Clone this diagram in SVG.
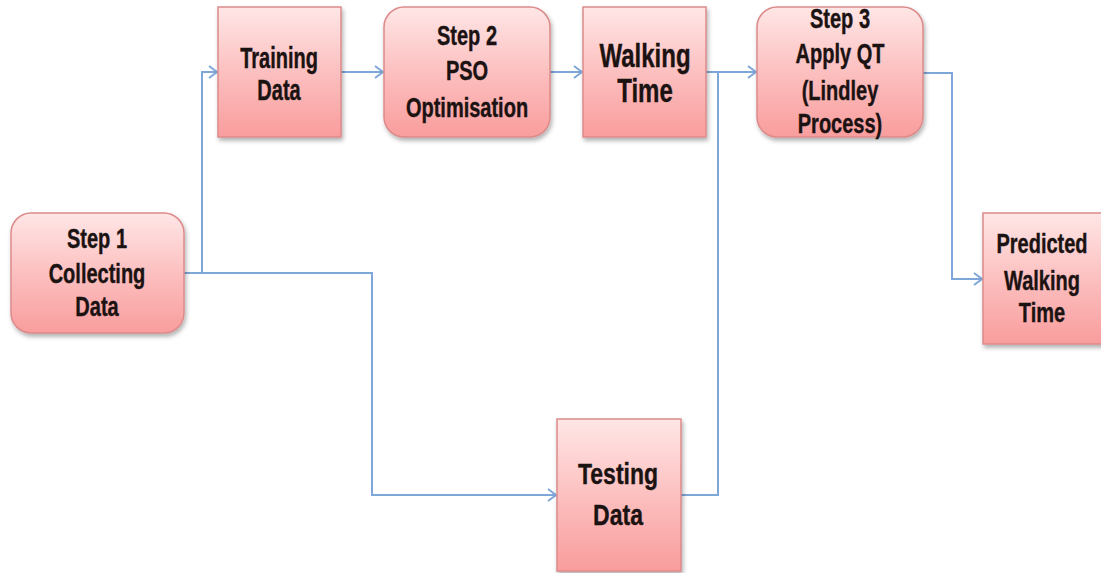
<svg xmlns="http://www.w3.org/2000/svg" width="1101" height="573" viewBox="0 0 1101 573">
  <style>
    .box { fill: url(#boxFill); stroke: #dc8a8a; stroke-width: 1.5; filter: url(#shadow); }
    .lbl { font-family: "Liberation Sans", Arial, sans-serif; font-weight: bold; font-size: 20px; fill: #1b1212; text-anchor: middle; stroke: #1b1212; stroke-width: 0.3; }
    .big { font-size: 24px; }
    .conn { fill: none; stroke: #7fa6d8; stroke-width: 2; }
  </style>
  <defs>
    <linearGradient id="boxFill" x1="0" y1="0" x2="0" y2="1">
      <stop offset="0" stop-color="#ffe6e6"/>
      <stop offset="0.55" stop-color="#fcbcbc"/>
      <stop offset="1" stop-color="#f99d9d"/>
    </linearGradient>
    <filter id="shadow" x="-10%" y="-10%" width="125%" height="125%">
      <feDropShadow dx="1.5" dy="3" stdDeviation="2" flood-color="#000" flood-opacity="0.3"/>
    </filter>
    <marker id="arrow" markerUnits="userSpaceOnUse" markerWidth="12" markerHeight="16" refX="9" refY="7" orient="auto">
      <path d="M1,1 L9,7 L1,13" fill="none" stroke="#7fa6d8" stroke-width="2"/>
    </marker>
  </defs>

  <!-- connectors -->
  <g id="connectors">
    <path class="conn" d="M184 273 H202 V72 H217" marker-end="url(#arrow)"/>
    <path class="conn" d="M202 273 H372 V495 H556" marker-end="url(#arrow)"/>
    <path class="conn" d="M341 72 H383" marker-end="url(#arrow)"/>
    <path class="conn" d="M550 72 H582" marker-end="url(#arrow)"/>
    <path class="conn" d="M706 72 H756" marker-end="url(#arrow)"/>
    <path class="conn" d="M681 495 H718 V72"/>
    <path class="conn" d="M923 73 H952 V279 H982" marker-end="url(#arrow)"/>
  </g>

  <!-- Step 1 -->
  <g id="step1">
    <rect class="box" x="11" y="213" width="173" height="120" rx="20"/>
    <text class="lbl" transform="translate(97,248) scale(1,1.4)">Step 1</text>
    <text class="lbl" transform="translate(97,283) scale(1,1.4)">Collecting</text>
    <text class="lbl" transform="translate(97,316) scale(1,1.4)">Data</text>
  </g>

  <!-- Training Data -->
  <g id="training">
    <rect class="box" x="218" y="7" width="123" height="130"/>
    <text class="lbl" transform="translate(279,68) scale(1,1.45)">Training</text>
    <text class="lbl" transform="translate(279,100) scale(1,1.45)">Data</text>
  </g>

  <!-- Step 2 -->
  <g id="step2">
    <rect class="box" x="384" y="7" width="166" height="130" rx="20"/>
    <text class="lbl" transform="translate(467,45) scale(1,1.4)">Step 2</text>
    <text class="lbl" transform="translate(467,80) scale(1,1.4)">PSO</text>
    <text class="lbl" transform="translate(467,117) scale(1,1.4)">Optimisation</text>
  </g>

  <!-- Walking Time -->
  <g id="walking">
    <rect class="box" x="583" y="7" width="123" height="130"/>
    <text class="lbl big" transform="translate(645,67) scale(1,1.35)">Walking</text>
    <text class="lbl big" transform="translate(645,102) scale(1,1.35)">Time</text>
  </g>

  <!-- Step 3 -->
  <g id="step3">
    <rect class="box" x="757" y="7" width="166" height="130" rx="20"/>
    <text class="lbl" transform="translate(840,28) scale(1,1.4)">Step 3</text>
    <text class="lbl" transform="translate(840,63) scale(1,1.4)">Apply QT</text>
    <text class="lbl" transform="translate(840,100) scale(1,1.4)">(Lindley</text>
    <text class="lbl" transform="translate(840,133) scale(1,1.4)">Process)</text>
  </g>

  <!-- Predicted Walking Time -->
  <g id="predicted">
    <rect class="box" x="983" y="213" width="125" height="131"/>
    <text class="lbl" transform="translate(1042,253) scale(1,1.4)">Predicted</text>
    <text class="lbl" transform="translate(1042,290) scale(1,1.4)">Walking</text>
    <text class="lbl" transform="translate(1042,322) scale(1,1.4)">Time</text>
  </g>

  <!-- Testing Data -->
  <g id="testing">
    <rect class="box" x="557" y="419" width="124" height="152"/>
    <text class="lbl" style="font-size:23px" transform="translate(618,484) scale(1,1.25)">Testing</text>
    <text class="lbl" style="font-size:23px" transform="translate(618,525) scale(1,1.25)">Data</text>
  </g>
</svg>
